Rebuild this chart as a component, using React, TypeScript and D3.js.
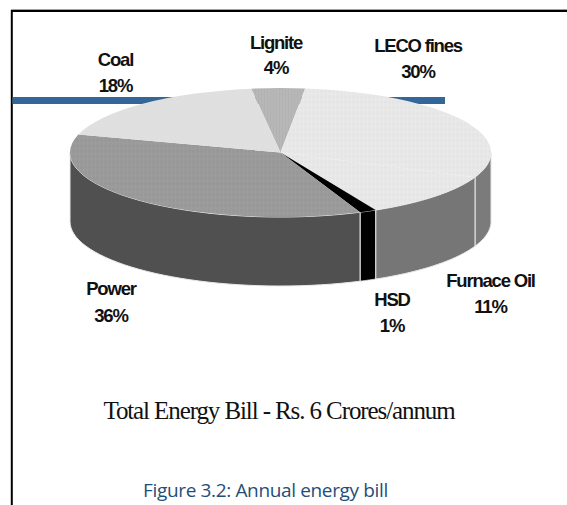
import * as d3 from 'd3';
import React from 'react';

const sources = ['Lignite', 'LECO fines', 'Furnace Oil', 'HSD', 'Power', 'Coal'];
// printed percentages are rounded, sliceSizes is what the drawn wedges measure
const shares = [4, 30, 11, 1, 36, 18];
const sliceSizes = [4.1, 29.4, 11.3, 1.3, 35.7, 18.3];
const labelX = [276, 418, 490.5, 392, 111, 115.5];
const labelY = [49, 52, 287, 306, 295, 66];
const labelGap = [25, 26, 26, 26, 27, 26];

const topFill = ['url(#lignite)', 'url(#leco)', 'url(#leco)', '#000000', 'url(#power)', 'url(#coal)'];
const wallFill = ['#777777', '#7b7b7b', '#767676', '#000000', '#505050', '#777777'];

const width = 567;
const height = 505;
const cx = 280.5;
const cy = 152.5;
const rx = 210.5;
const ry = 64.5;
const depth = 69;
const startAngle = (-8 * Math.PI) / 180;

export default function App() {
    const pie = d3.pie<number>()
        .sort(null)
        .startAngle(startAngle)
        .endAngle(startAngle + 2 * Math.PI);
    const slices = pie(sliceSizes);

    const arc = d3.arc<any>().innerRadius(0).outerRadius(rx);

    // wall of the cake, only the front half (90 to 270 deg) can be seen
    const wallPath = (a0: number, a1: number) => {
        const from = Math.max(a0, Math.PI / 2);
        const to = Math.min(a1, (3 * Math.PI) / 2);
        if (to <= from) return null;
        const angles = d3.range(0, 41).map((i) => from + ((to - from) * i) / 40);
        const upper = angles.map((a) => [cx + rx * Math.sin(a), cy - ry * Math.cos(a)] as [number, number]);
        const lower = upper.map((p) => [p[0], p[1] + depth] as [number, number]).reverse();
        return d3.line()([...upper, ...lower]) + 'Z';
    };

    return (
        <svg
            width={width}
            height={height}
            style={{ position: 'absolute', left: 0, top: 0, background: '#fff' }}
        >
            <defs>
                <pattern id="coal" width="3" height="3" patternUnits="userSpaceOnUse">
                    <rect width="3" height="3" fill="#e0e0e0" />
                    <rect width="1" height="1" fill="#dcdcdc" />
                </pattern>
                <pattern id="lignite" width="3" height="3" patternUnits="userSpaceOnUse">
                    <rect width="3" height="3" fill="#a8a8a8" />
                    <rect width="3" height="1" fill="#c8c8c8" />
                    <rect width="1" height="3" fill="#bcbcbc" />
                </pattern>
                <pattern id="leco" width="4" height="4" patternUnits="userSpaceOnUse">
                    <rect width="4" height="4" fill="#e9e9e9" />
                    <rect width="2" height="2" fill="#e2e2e2" />
                </pattern>
                <pattern id="power" width="4" height="4" patternUnits="userSpaceOnUse">
                    <rect width="4" height="4" fill="#9c9c9c" />
                    <rect width="2" height="2" fill="#949494" />
                </pattern>
            </defs>

            {/* page frame and the blue rule behind the pie */}
            <rect x={11} y={9} width={width - 11} height={1} fill="#a0a0a0" />
            <line x1={11} y1={11} x2={width} y2={11} stroke="#000" strokeWidth={2} />
            <line x1={11.8} y1={10} x2={11.8} y2={height} stroke="#000" strokeWidth={2} />
            <rect x={12.5} y={97} width={432.5} height={7} fill="#336699" />

            <g>
                {slices.map((s, i) => {
                    const d = wallPath(s.startAngle, s.endAngle);
                    return d ? <path key={i} d={d} fill={wallFill[i]} stroke="#e8e8e8" strokeWidth={1} /> : null;
                })}
            </g>

            <g transform={`translate(${cx},${cy}) scale(1,${ry / rx})`}>
                {slices.map((s, i) => (
                    <path key={i} d={arc(s) as string} fill={topFill[i]} />
                ))}
            </g>

            <g
                fontFamily="'Liberation Sans', Arial, sans-serif"
                fontSize={18.5}
                fontWeight="bold"
                letterSpacing={-1.2}
                textAnchor="middle"
                fill="#111"
            >
                {sources.map((name, i) => (
                    <text key={name} x={labelX[i]} y={labelY[i]}>
                        <tspan x={labelX[i]}>{name}</tspan>
                        <tspan x={labelX[i]} dy={labelGap[i]}>{shares[i]}%</tspan>
                    </text>
                ))}
            </g>

            <text
                x={279}
                y={419}
                textAnchor="middle"
                fontFamily="'Liberation Serif', serif"
                fontSize={25}
                letterSpacing={-1.1}
                fill="#111"
            >
                Total Energy Bill - Rs. 6 Crores/annum
            </text>
            <text
                x={265.5}
                y={497}
                textAnchor="middle"
                fontFamily="'Open Sans', sans-serif"
                fontSize={19}
                letterSpacing={-0.35}
                fill="#1f4e79"
            >
                Figure 3.2: Annual energy bill
            </text>
        </svg>
    );
}
